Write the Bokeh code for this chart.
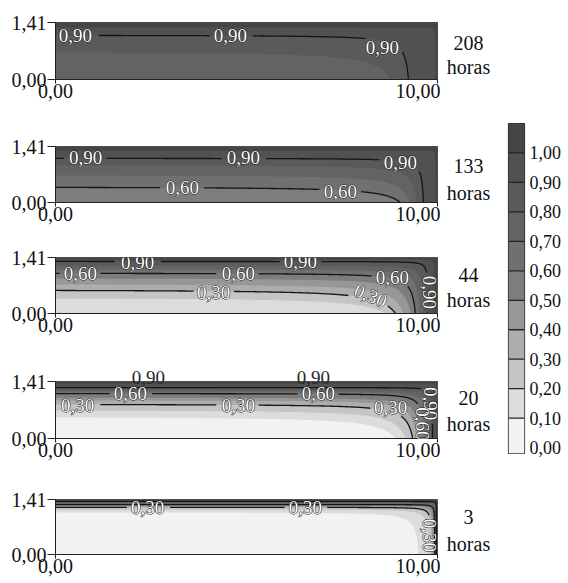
import math
import numpy as np
from bokeh.plotting import figure
from bokeh.layouts import row, column
from bokeh.models import FixedTicker, Label, Range1d, LinearAxis
from bokeh.core.properties import value
from bokeh.embed import file_html
from bokeh.resources import INLINE

# ---------------- data ----------------
X_MAX = 10.0          # length (x axis: 0,00 .. 10,00)
Y_MAX = 1.41          # height (y axis: 0,00 .. 1,41)
LEVELS = [0.1, 0.2, 0.3, 0.4, 0.5, 0.6, 0.7, 0.8, 0.9, 1.0]
LINE_LEVELS = [0.3, 0.6, 0.9]
BAND_STARTS = [0.0, 0.1, 0.2, 0.3, 0.4, 0.5, 0.6, 0.7, 0.8, 0.9, 1.0]
BAND_COLORS = ["#f2f2f2", "#dcdcdc", "#c5c5c5", "#adadad", "#979797", "#7d7d7d",
               "#707070", "#636363", "#5a5a5a", "#515151", "#454545"]
CB_TICKS = [0.0, 0.1, 0.2, 0.3, 0.4, 0.5, 0.6, 0.7, 0.8, 0.9, 1.0]
CB_TICK_LABELS = ["0,00", "0,10", "0,20", "0,30", "0,40", "0,50",
                  "0,60", "0,70", "0,80", "0,90", "1,00"]
CB_TOP = 1.1

HOURS = ["208", "133", "44", "20", "3"]

# y where each level's contour meets the left edge, x where it meets the bottom
Y_LEFT_208 = [None, None, None, None, None, None, None, 0.67, 1.09, 1.29]
X_BOTTOM_208 = [None, None, None, None, None, None, None, 8.77, 9.24, 9.95]
Y_LEFT_133 = [None, None, None, None, None, 0.38, 0.68, 0.93, 1.11, 1.31]
X_BOTTOM_133 = [None, None, None, None, None, 9.03, 9.27, 9.45, 9.63, 9.95]
Y_LEFT_44 = [None, 0.38, 0.58, 0.73, 0.88, 1.01, 1.11, 1.21, 1.31, 1.36]
X_BOTTOM_44 = [None, 8.64, 8.90, 9.11, 9.29, 9.42, 9.53, 9.63, 9.74, 9.92]
Y_LEFT_20 = [0.52, 0.69, 0.84, 0.94, 1.01, 1.11, 1.16, 1.21, 1.26, 1.36]
X_BOTTOM_20 = [8.90, 9.16, 9.35, 9.45, 9.53, 9.63, 9.71, 9.79, 9.87, 9.97]
Y_LEFT_3 = [1.08, 1.15, 1.21, 1.23, 1.26, 1.28, 1.31, 1.33, 1.36, 1.38]
X_BOTTOM_3 = [9.50, 9.76, 9.84, 9.87, 9.90, 9.93, 9.94, 9.96, 9.97, 9.98]

Y_LEFT = [Y_LEFT_208, Y_LEFT_133, Y_LEFT_44, Y_LEFT_20, Y_LEFT_3]
X_BOTTOM = [X_BOTTOM_208, X_BOTTOM_133, X_BOTTOM_44, X_BOTTOM_20, X_BOTTOM_3]

# contour labels: (text, x, y, angle)
LABELS_208 = [("0,90", 0.52, 1.09, 0.0), ("0,90", 4.58, 1.09, 0.0), ("0,90", 8.56, 0.79, 0.0)]
LABELS_133 = [("0,90", 0.79, 1.13, 0.0), ("0,90", 4.92, 1.13, 0.0), ("0,90", 9.03, 1.01, 0.0),
              ("0,60", 3.32, 0.38, 0.0), ("0,60", 7.46, 0.28, 0.0)]
LABELS_44 = [("0,90", 2.15, 1.28, 0.0), ("0,90", 6.41, 1.30, 0.0),
             ("0,60", 0.65, 1.01, 0.0), ("0,60", 4.79, 1.01, 0.0), ("0,60", 8.82, 0.91, 0.0),
             ("0,30", 4.14, 0.53, 0.0), ("0,30", 8.25, 0.45, -0.4),
             ("0,90", 9.78, 0.53, -math.pi / 2)]
LABELS_20 = [("0,60", 1.96, 1.11, 0.0), ("0,60", 6.88, 1.11, 0.0),
             ("0,30", 0.58, 0.82, 0.0), ("0,30", 4.79, 0.82, 0.0), ("0,30", 8.77, 0.77, 0.0),
             ("0,90", 9.82, 0.86, -math.pi / 2), ("0,60", 9.60, 0.36, -math.pi / 2)]
LABELS_3 = [("0,30", 2.41, 1.20, 0.0), ("0,30", 6.54, 1.20, 0.0),
            ("0,30", 9.80, 0.49, -math.pi / 2)]
LABELS = [LABELS_208, LABELS_133, LABELS_44, LABELS_20, LABELS_3]

# contour labels that sit on the top edge of a panel (text, x)
TOP_LABELS = [[], [], [], [("0,90", 2.43), ("0,90", 6.75)], []]

HOUR_LABEL_Y = [0.915, 0.93, 0.96, 0.99, 0.95]
HORAS_LABEL_Y = [0.30, 0.25, 0.33, 0.35, 0.28]

# ---------------- layout / style ----------------
SERIF = "Liberation Serif"
P_SHAPE = 1.3
FRAME_W = 382
BORDER_LEFT = 55
BORDER_RIGHT = 3
PANEL_W = BORDER_LEFT + FRAME_W + BORDER_RIGHT
TAG_W = 56
TOPS = [22, 36, 25, 31, 31]
FRAME_H = [57, 56, 56, 57, 55]
BOTTOMS = [31, 30, 37, 30, 29]
TOTAL_H = 583
TOTAL_W = 568


def solve_shape(y_left, x_bottom, p):
    a = Y_MAX - y_left
    d = X_MAX - x_bottom
    m = np.array([[a ** -p, X_MAX ** -p], [Y_MAX ** -p, d ** -p]])
    alpha, beta = np.linalg.solve(m, [1.0, 1.0])
    return alpha ** (1 / p), beta ** (1 / p)


def contour_curve(y_left, x_bottom, p=P_SHAPE):
    A, B = solve_shape(y_left, x_bottom, p)
    s = np.linspace(0, 1, 180)
    dx_a = 2 * B + (X_MAX + 0.1 - 2 * B) * (1 - s) ** 2
    dy_a = A / (1 - (B / dx_a) ** p) ** (1 / p)
    xs = list(X_MAX - dx_a)
    ys = list(Y_MAX - dy_a)
    dy_sw = dy_a[-1]
    if dy_sw < Y_MAX + 0.05:
        dy_b = dy_sw + (Y_MAX + 0.05 - dy_sw) * s[1:] ** 2
        dx_b = B / (1 - (A / dy_b) ** p) ** (1 / p)
        xs += list(X_MAX - dx_b)
        ys += list(Y_MAX - dy_b)
    return np.array(xs), np.array(ys)


def split_with_gaps(xs, ys, labels, sx, sy):
    keep = np.ones(len(xs), dtype=bool)
    for (lx, ly, ang) in labels:
        dxp = (xs - lx) * sx
        dyp = (ys - ly) * sy
        u = dxp * math.cos(ang) + dyp * math.sin(ang)
        v = -dxp * math.sin(ang) + dyp * math.cos(ang)
        keep &= ~((np.abs(u) < 20) & (np.abs(v) < 9))
    segs_x, segs_y = [], []
    cur_x, cur_y = [], []
    for k, x, y in zip(keep, xs, ys):
        if k:
            cur_x.append(float(x))
            cur_y.append(float(y))
        else:
            if len(cur_x) > 1:
                segs_x.append(cur_x)
                segs_y.append(cur_y)
            cur_x, cur_y = [], []
    if len(cur_x) > 1:
        segs_x.append(cur_x)
        segs_y.append(cur_y)
    return segs_x, segs_y


def make_panel(i):
    h = TOPS[i] + FRAME_H[i] + BOTTOMS[i]
    p = figure(width=PANEL_W, height=h, x_range=Range1d(0, X_MAX), y_range=Range1d(0, Y_MAX),
               output_backend="svg", toolbar_location=None, title=None,
               min_border_left=BORDER_LEFT, min_border_right=BORDER_RIGHT,
               min_border_top=TOPS[i], min_border_bottom=BOTTOMS[i])
    bottom_ax = p.below[0]
    left_ax = p.left[0]
    sx = FRAME_W / X_MAX
    sy = FRAME_H[i] / Y_MAX

    y_left = Y_LEFT[i]
    x_bot = X_BOTTOM[i]
    present = [k for k in range(len(LEVELS)) if y_left[k] is not None]
    body_band = present[0]
    p.quad(left=[0], right=[X_MAX], bottom=[0], top=[Y_MAX],
           fill_color=BAND_COLORS[body_band], line_color=None)

    pxs, pys, pcols = [], [], []
    curves = {}
    for k in present:
        xs, ys = contour_curve(y_left[k], x_bot[k])
        curves[LEVELS[k]] = (xs, ys)
        px = list(xs) + [X_MAX + 0.2, X_MAX + 0.2, -0.2, -0.2]
        py = list(ys) + [float(ys[-1]), Y_MAX + 0.2, Y_MAX + 0.2, float(ys[0])]
        pxs.append(px)
        pys.append(py)
        pcols.append(BAND_COLORS[k + 1])
    p.patches(xs=pxs, ys=pys, fill_color=pcols, line_color=None)

    lx_all, ly_all = [], []
    for lev in LINE_LEVELS:
        key = [L for L in curves if abs(L - lev) < 1e-9]
        if not key:
            continue
        xs, ys = curves[key[0]]
        labs = [(x, y, a) for (t, x, y, a) in LABELS[i]
                if abs(float(t.replace(",", ".")) - lev) < 1e-9]
        sxs, sys_ = split_with_gaps(xs, ys, labs, sx, sy)
        lx_all += sxs
        ly_all += sys_
    p.multi_line(xs=lx_all, ys=ly_all, line_color="#151515", line_width=1.3)

    for (t, x, y, a) in LABELS[i]:
        p.add_layout(Label(x=x, y=y, text=t, angle=a, text_align="center",
                           text_baseline="middle", text_font=SERIF, text_font_size="19px",
                           text_color="#111111", text_outline_color="#111111"))
        p.add_layout(Label(x=x, y=y, text=t, angle=a, text_align="center",
                           text_baseline="middle", text_font=SERIF, text_font_size="19px",
                           text_color="white"))

    bottom_ax.ticker = FixedTicker(ticks=[0.0, X_MAX])
    bottom_ax.major_label_overrides = {0.0: "0,00", X_MAX: "10,00"}
    left_ax.ticker = FixedTicker(ticks=[0.0, Y_MAX])
    left_ax.major_label_overrides = {0.0: "0,00", Y_MAX: "1,41"}
    for ax in (bottom_ax, left_ax):
        ax.axis_line_color = "#222222"
        ax.major_tick_line_color = "#222222"
        ax.minor_tick_line_color = None
        ax.major_tick_in = 0
        ax.major_label_text_font = SERIF
        ax.major_label_text_font_size = "20px"
        ax.major_label_text_color = "#111111"
    bottom_ax.major_tick_out = 4
    bottom_ax.major_label_standoff = 0
    left_ax.major_tick_out = 8
    left_ax.major_label_standoff = 1

    if TOP_LABELS[i]:
        tx = [x for (_, x) in TOP_LABELS[i]]
        top_ax = LinearAxis(ticker=FixedTicker(ticks=tx),
                            major_label_overrides={x: t for (t, x) in TOP_LABELS[i]})
        top_ax.axis_line_color = None
        top_ax.major_tick_line_color = None
        top_ax.minor_tick_line_color = None
        top_ax.major_tick_out = 0
        top_ax.major_tick_in = 0
        top_ax.major_label_standoff = -2
        top_ax.major_label_text_font = SERIF
        top_ax.major_label_text_font_size = "19px"
        top_ax.major_label_text_color = "#2a2a2a"
        p.add_layout(top_ax, "above")

    p.grid.visible = False
    p.outline_line_color = "#333333"
    p.outline_line_width = 1
    p.border_fill_color = "white"
    return p


def make_tag(i):
    h = TOPS[i] + FRAME_H[i] + BOTTOMS[i]
    t = figure(width=TAG_W, height=h, x_range=Range1d(0, 1), y_range=Range1d(0, Y_MAX),
               output_backend="svg", toolbar_location=None, title=None,
               x_axis_location=None, y_axis_location=None,
               min_border_left=0, min_border_right=0,
               min_border_top=TOPS[i], min_border_bottom=BOTTOMS[i])
    t.text(x=[0.5, 0.5], y=[HOUR_LABEL_Y[i], HORAS_LABEL_Y[i]], text=[HOURS[i], "horas"],
           text_align="center", text_baseline="middle", text_font=value(SERIF),
           text_font_size="20px", text_color="#111111")
    t.grid.visible = False
    t.outline_line_color = None
    t.background_fill_color = "white"
    return t


panels = [row(make_panel(i), make_tag(i)) for i in range(5)]

# ---------------- colour bar ----------------
CB_W = TOTAL_W - PANEL_W - TAG_W
CB_LEFT = 12
CB_BAR_W = 16
CB_TOP_PX = 123
CB_BAR_H = 330
cb = figure(width=CB_W, height=TOTAL_H, x_range=Range1d(0, 1), y_range=Range1d(-0.02, CB_TOP),
            output_backend="svg", toolbar_location=None, title=None,
            x_axis_location=None, y_axis_location="right",
            min_border_left=CB_LEFT, min_border_right=CB_W - CB_LEFT - CB_BAR_W,
            min_border_top=CB_TOP_PX, min_border_bottom=TOTAL_H - CB_TOP_PX - CB_BAR_H)
bottoms = [cb.y_range.start] + LEVELS
tops = LEVELS + [CB_TOP]
cb.quad(left=0, right=1, bottom=bottoms, top=tops, fill_color=BAND_COLORS, line_color=None)
cb.segment(x0=[0] * len(LEVELS), x1=[1] * len(LEVELS), y0=LEVELS, y1=LEVELS,
           line_color="#222222", line_width=1.3)
cb.yaxis.ticker = FixedTicker(ticks=CB_TICKS)
cb.yaxis.major_label_overrides = {t: s for t, s in zip(CB_TICKS, CB_TICK_LABELS)}
cb.yaxis.axis_line_color = None
cb.yaxis.major_tick_line_color = None
cb.yaxis.minor_tick_line_color = None
cb.yaxis.major_tick_out = 0
cb.yaxis.major_tick_in = 0
cb.yaxis.major_label_standoff = 5
cb.yaxis.major_label_text_font = SERIF
cb.yaxis.major_label_text_font_size = "18px"
cb.yaxis.major_label_text_color = "#111111"
cb.grid.visible = False
cb.outline_line_color = "#333333"
cb.outline_line_width = 1.2

layout = row(column(*panels), cb)
open("out.html", "w").write(file_html(layout, INLINE))
